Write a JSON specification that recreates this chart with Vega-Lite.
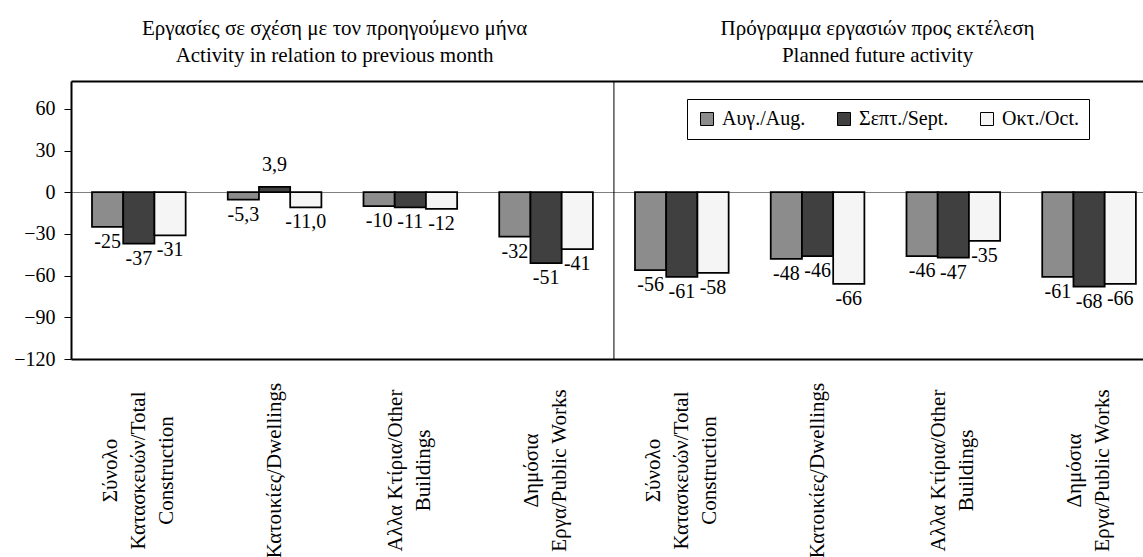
{
  "$schema": "https://vega.github.io/schema/vega-lite/v6.json",
  "width": 1072,
  "height": 278,
  "autosize": "none",
  "padding": {"left": 71, "top": 81, "right": 0, "bottom": 198},
  "background": "white",
  "config": {
    "view": {"stroke": null},
    "font": "Liberation Serif",
    "axis": {"labelFont": "Liberation Serif", "labelColor": "black", "labelFontSize": 20},
    "legend": {"labelFont": "Liberation Serif"}
  },
  "data": {
    "values": [
      {"category": "L|Σύνολο|Κατασκευών/Total|Construction", "month": "Αυγ./Aug.", "value": -25, "label": "-25"},
      {"category": "L|Σύνολο|Κατασκευών/Total|Construction", "month": "Σεπτ./Sept.", "value": -37, "label": "-37"},
      {"category": "L|Σύνολο|Κατασκευών/Total|Construction", "month": "Οκτ./Oct.", "value": -31, "label": "-31"},
      {"category": "L|Κατοικίες/Dwellings", "month": "Αυγ./Aug.", "value": -5.3, "label": "-5,3"},
      {"category": "L|Κατοικίες/Dwellings", "month": "Σεπτ./Sept.", "value": 3.9, "label": "3,9"},
      {"category": "L|Κατοικίες/Dwellings", "month": "Οκτ./Oct.", "value": -11.0, "label": "-11,0"},
      {"category": "L|Αλλα Κτίρια/Other|Buildings", "month": "Αυγ./Aug.", "value": -10, "label": "-10"},
      {"category": "L|Αλλα Κτίρια/Other|Buildings", "month": "Σεπτ./Sept.", "value": -11, "label": "-11"},
      {"category": "L|Αλλα Κτίρια/Other|Buildings", "month": "Οκτ./Oct.", "value": -12, "label": "-12"},
      {"category": "L|Δημόσια|Εργα/Public Works", "month": "Αυγ./Aug.", "value": -32, "label": "-32"},
      {"category": "L|Δημόσια|Εργα/Public Works", "month": "Σεπτ./Sept.", "value": -51, "label": "-51"},
      {"category": "L|Δημόσια|Εργα/Public Works", "month": "Οκτ./Oct.", "value": -41, "label": "-41"},
      {"category": "R|Σύνολο|Κατασκευών/Total|Construction", "month": "Αυγ./Aug.", "value": -56, "label": "-56"},
      {"category": "R|Σύνολο|Κατασκευών/Total|Construction", "month": "Σεπτ./Sept.", "value": -61, "label": "-61"},
      {"category": "R|Σύνολο|Κατασκευών/Total|Construction", "month": "Οκτ./Oct.", "value": -58, "label": "-58"},
      {"category": "R|Κατοικίες/Dwellings", "month": "Αυγ./Aug.", "value": -48, "label": "-48"},
      {"category": "R|Κατοικίες/Dwellings", "month": "Σεπτ./Sept.", "value": -46, "label": "-46"},
      {"category": "R|Κατοικίες/Dwellings", "month": "Οκτ./Oct.", "value": -66, "label": "-66"},
      {"category": "R|Αλλα Κτίρια/Other|Buildings", "month": "Αυγ./Aug.", "value": -46, "label": "-46"},
      {"category": "R|Αλλα Κτίρια/Other|Buildings", "month": "Σεπτ./Sept.", "value": -47, "label": "-47"},
      {"category": "R|Αλλα Κτίρια/Other|Buildings", "month": "Οκτ./Oct.", "value": -35, "label": "-35"},
      {"category": "R|Δημόσια|Εργα/Public Works", "month": "Αυγ./Aug.", "value": -61, "label": "-61"},
      {"category": "R|Δημόσια|Εργα/Public Works", "month": "Σεπτ./Sept.", "value": -68, "label": "-68"},
      {"category": "R|Δημόσια|Εργα/Public Works", "month": "Οκτ./Oct.", "value": -66, "label": "-66"}
    ]
  },
  "layer": [
    {
      "mark": {"type": "bar", "stroke": "black", "strokeWidth": 1.75},
      "encoding": {
        "x": {
          "field": "category", "type": "nominal", "sort": null,
          "scale": {"paddingInner": 0.31, "paddingOuter": 0.1035, "align": 0.747},
          "axis": {
            "orient": "bottom", "title": null, "labelAngle": -90, "labelAlign": "center", "labelBaseline": "middle",
            "labelPadding": 111, "ticks": false, "tickSize": 0, "domainColor": "black", "domainWidth": 2,
            "labelFontSize": 21, "labelLineHeight": 28, "labelLimit": 0, "labelOverlap": false,
            "labelBound": false, "labelFlush": false,
            "labelOffset": {
              "condition": [
                {"test": "length(split(datum.value, '|')) === 4", "value": -28},
                {"test": "length(split(datum.value, '|')) === 3", "value": -14}
              ],
              "value": 0
            },
            "labelExpr": "slice(split(datum.label, '|'), 1)"
          }
        },
        "xOffset": {
          "field": "month", "type": "nominal", "sort": ["Αυγ./Aug.", "Σεπτ./Sept.", "Οκτ./Oct."],
          "scale": {"paddingInner": 0, "paddingOuter": 0}
        },
        "y": {
          "field": "value", "type": "quantitative",
          "scale": {"domain": [-120, 80], "nice": false, "zero": true},
          "axis": {
            "values": [-120, -90, -60, -30, 0, 30, 60], "title": null,
            "grid": true, "gridColor": "#808080", "gridWidth": 1,
            "gridOpacity": {"condition": {"test": "datum.value === 0", "value": 1}, "value": 0},
            "tickSize": 7, "tickColor": "black", "tickWidth": 1,
            "domainColor": "black", "domainWidth": 2,
            "labelFontSize": 20, "labelPadding": 9
          }
        },
        "color": {
          "field": "month", "type": "nominal",
          "sort": ["Αυγ./Aug.", "Σεπτ./Sept.", "Οκτ./Oct."],
          "scale": {"domain": ["Αυγ./Aug.", "Σεπτ./Sept.", "Οκτ./Oct."], "range": ["#8c8c8c", "#404040", "#f5f5f5"]},
          "legend": {
            "title": null, "orient": "none", "legendX": 616, "legendY": 18, "direction": "horizontal",
            "symbolType": "square", "symbolSize": 169, "symbolStrokeColor": "black", "symbolStrokeWidth": 1,
            "symbolOpacity": 1, "labelFontSize": 20, "labelColor": "black", "columnPadding": 28,
            "labelOffset": 5, "padding": 10, "strokeColor": "black", "fillColor": "white"
          }
        }
      }
    },
    {
      "transform": [{"filter": "datum.value < 0"}],
      "mark": {"type": "text", "baseline": "top", "align": "center", "dy": 5, "fontSize": 20, "font": "Liberation Serif", "color": "black"},
      "encoding": {
        "x": {
          "field": "category", "type": "nominal", "sort": null,
          "axis": {
            "orient": "top", "title": null, "ticks": false, "tickSize": 0, "domainColor": "black", "domainWidth": 2,
            "labelAngle": 0, "labelAlign": "center", "labelBaseline": "bottom", "labelPadding": 43, "labelOffset": 60,
            "labelFontSize": 21, "labelLineHeight": 27, "labelLimit": 0, "labelOverlap": false,
            "labelBound": false, "labelFlush": false,
            "labelExpr": "datum.value === 'L|Κατοικίες/Dwellings' ? ['Εργασίες σε σχέση με τον προηγούμενο μήνα', 'Activity in relation to previous month'] : datum.value === 'R|Κατοικίες/Dwellings' ? ['Πρόγραμμα εργασιών προς εκτέλεση', 'Planned future activity'] : ''"
          }
        },
        "xOffset": {"field": "month", "type": "nominal", "sort": ["Αυγ./Aug.", "Σεπτ./Sept.", "Οκτ./Oct."]},
        "y": {"field": "value", "type": "quantitative"},
        "text": {"field": "label", "type": "nominal"}
      }
    },
    {
      "transform": [{"filter": "datum.value >= 0"}],
      "mark": {"type": "text", "baseline": "bottom", "align": "center", "dy": -12, "fontSize": 20, "font": "Liberation Serif", "color": "black"},
      "encoding": {
        "x": {"field": "category", "type": "nominal", "sort": null, "axis": null},
        "xOffset": {"field": "month", "type": "nominal", "sort": ["Αυγ./Aug.", "Σεπτ./Sept.", "Οκτ./Oct."]},
        "y": {"field": "value", "type": "quantitative"},
        "text": {"field": "label", "type": "nominal"}
      }
    },
    {
      "transform": [{"aggregate": [{"op": "count", "as": "n"}]}],
      "mark": {"type": "rule", "color": "black", "strokeWidth": 1},
      "encoding": {
        "x": {"datum": "L|Δημόσια|Εργα/Public Works", "type": "nominal", "bandPosition": 1.2246, "axis": null}
      }
    }
  ],
  "resolve": {"axis": {"x": "independent"}}
}
